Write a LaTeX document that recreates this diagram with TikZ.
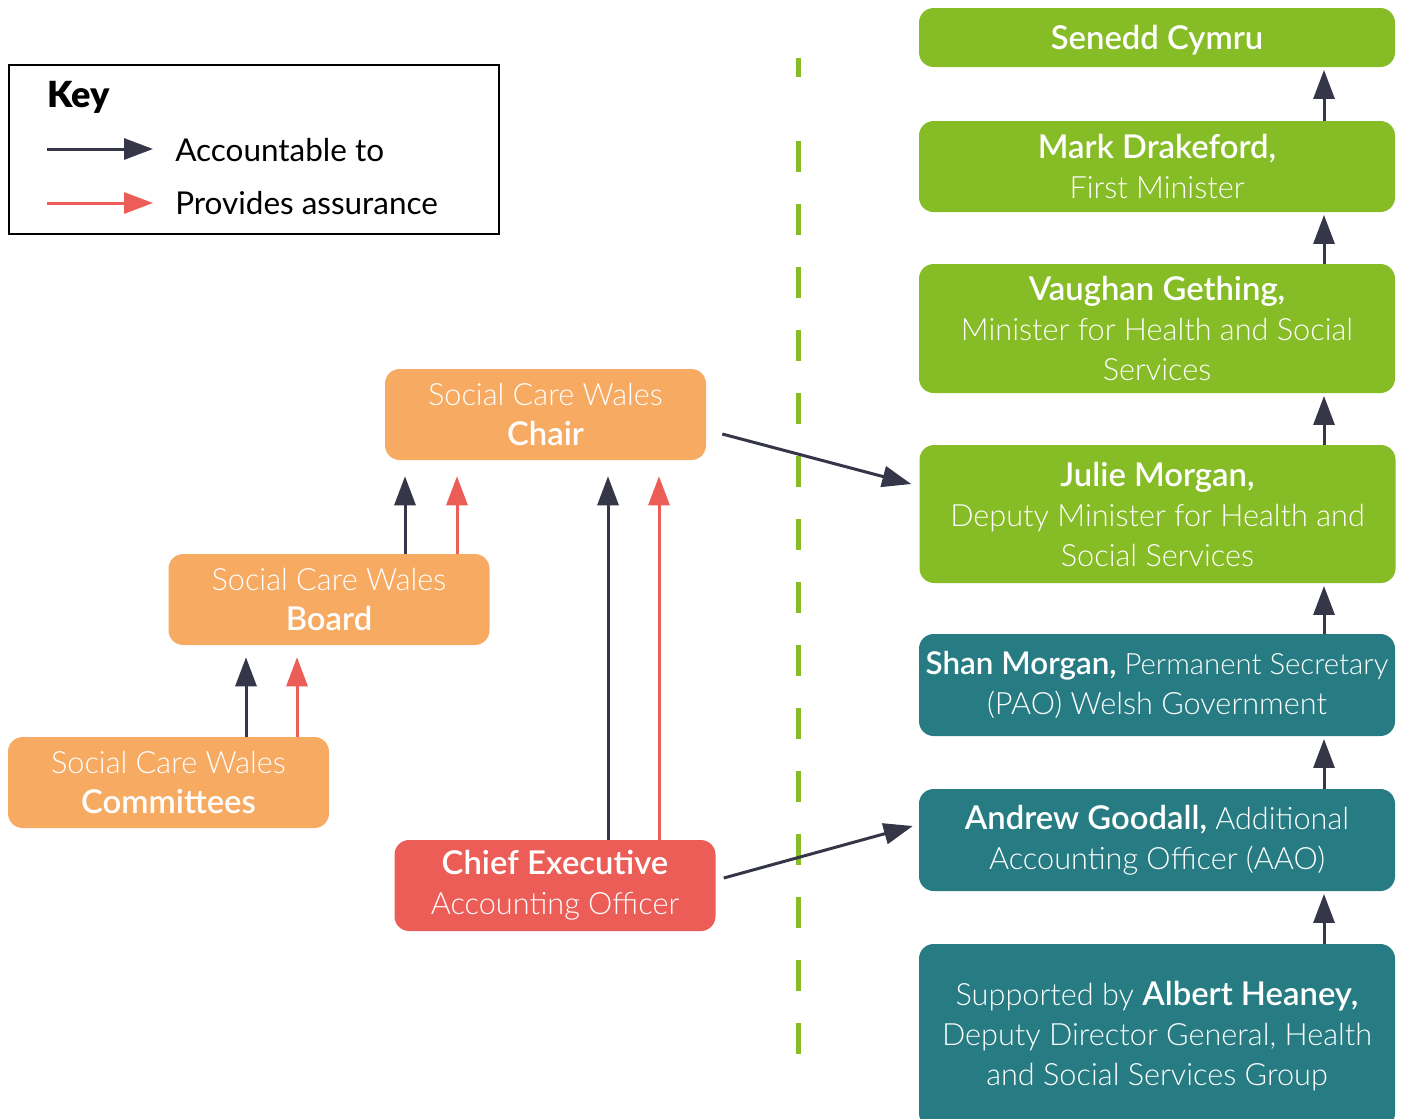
\documentclass[tikz,border=0pt]{standalone}
\usepackage{fontspec}
\setmainfont{Lato}[UprightFont={* Light},BoldFont={* Semibold},BoldFeatures={Scale=1.07}]
\newfontfamily\regfont{Lato}
\newfontfamily\blackfont{Lato Black}
\usetikzlibrary{arrows.meta,calc}
\definecolor{wgreen}{HTML}{86BC25}
\definecolor{wteal}{HTML}{267C82}
\definecolor{worange}{HTML}{F7AA62}
\definecolor{wred}{HTML}{EB5D56}
\definecolor{wnavy}{HTML}{353648}
\tikzset{
  box/.style={rounded corners=11pt, inner sep=0pt, text=white, align=center,
    font=\fontsize{23}{30}\selectfont, execute at begin node={\rule{0pt}{21.5pt}}},
  gbox/.style={box, fill=wgreen, minimum width=357pt},
  tbox/.style={box, fill=wteal, minimum width=357pt},
  obox/.style={box, fill=worange, minimum width=240.75pt, minimum height=68.25pt},
  rbox/.style={box, fill=wred, minimum width=240.75pt, minimum height=68.25pt},
  acc/.style={draw=wnavy, line width=2.25pt, -{Triangle[length=21.75pt,width=15.75pt]}},
  asr/.style={draw=wred, line width=2.25pt, -{Triangle[length=21.75pt,width=15.75pt]}},
  keytext/.style={anchor=west, inner sep=0pt, font=\regfont\fontsize{23.6}{30}\selectfont}
}
\begin{document}
\begin{tikzpicture}[x=0.75pt,y=-0.75pt]
\useasboundingbox (0,0) rectangle (1405,1118);
% key
\node[draw=black, line width=1.9pt, minimum width=367.5pt, minimum height=126.75pt, inner sep=0pt] (key) at (254,149.5) {};
\node[anchor=west, inner sep=0pt, font=\blackfont\fontsize{27}{30}\selectfont] (keyt) at (47,97) {Key};
\coordinate (ka1) at (47,149);
\coordinate (kb1) at (153,149);
\coordinate (ka2) at (47,203);
\coordinate (kb2) at (153,203);
\draw[acc] (ka1) -- (kb1);
\draw[asr] (ka2) -- (kb2);
\node[keytext] (kt1) at (175,150) {Accountable to};
\node[keytext] (kt2) at (175,203) {Provides assurance};
% dashed divider
\coordinate (d0) at (798,58);
\coordinate (d1) at (798,77);
\coordinate (d2) at (798,141);
\coordinate (d3) at (798,1057);
\draw[wgreen, line width=3.75pt] (d0) -- (d1);
\draw[wgreen, line width=3.75pt, dash pattern=on 23.25pt off 24pt] (d2) -- (d3);
% right column
\node[gbox, minimum height=44.25pt] (senedd) at (1157,37.5) {\textbf{Senedd Cymru}};
\node[gbox, minimum height=68.25pt] (mark) at (1157,166.5) {\textbf{Mark Drakeford,}\\First Minister};
\node[gbox, minimum height=96.75pt] (vaughan) at (1157,328.5) {\textbf{Vaughan Gething,}\\Minister for Health and Social\\Services};
\node[gbox, minimum height=103.5pt] (julie) at (1157.5,514) {\textbf{Julie Morgan,}\\Deputy Minister for Health and\\Social Services};
\node[tbox, minimum height=76.5pt] (shan) at (1157,685) {{\fontsize{22}{30}\selectfont\textbf{Shan Morgan,} Permanent Secretary}\\(PAO) Welsh Government};
\node[tbox, minimum height=76.5pt] (andrew) at (1157,840) {\textbf{Andrew Goodall,} Additional\\Accounting Officer (AAO)};
\node[tbox, minimum height=138pt] (albert) at (1157,1036) {Supported by \textbf{Albert Heaney,}\\Deputy Director General, Health\\and Social Services Group};
% left
\node[obox] (chair) at (545.5,414.5) {Social Care Wales\\\textbf{Chair}};
\node[obox] (board) at (329,599.5) {Social Care Wales\\\textbf{Board}};
\node[obox] (comm) at (168.5,782.5) {Social Care Wales\\\textbf{Committees}};
\node[rbox] (ceo) at (555,885.5) {\textbf{Chief Executive}\\Accounting Officer};
% column coordinates
\coordinate (cx) at (1324,0);
\coordinate (x1) at (405,0);
\coordinate (x2) at (457,0);
\coordinate (x3) at (246,0);
\coordinate (x4) at (297,0);
\coordinate (x5) at (608,0);
\coordinate (x6) at (659,0);
% green chain
\draw[acc, shorten >=2pt] (mark.north -| cx) -- (senedd.south -| cx);
\draw[acc, shorten >=2pt] (vaughan.north -| cx) -- (mark.south -| cx);
\draw[acc, shorten >=2pt] (julie.north -| cx) -- (vaughan.south -| cx);
\draw[acc, shorten >=2pt] (shan.north -| cx) -- (julie.south -| cx);
\draw[acc, shorten >=2pt] (andrew.north -| cx) -- (shan.south -| cx);
\draw[acc, shorten >=2pt] (albert.north -| cx) -- (andrew.south -| cx);
% left arrows
\draw[acc, shorten >=12pt] (board.north -| x1) -- (chair.south -| x1);
\draw[asr, shorten >=12pt] (board.north -| x2) -- (chair.south -| x2);
\draw[acc, shorten >=9pt] (comm.north -| x3) -- (board.south -| x3);
\draw[asr, shorten >=9pt] (comm.north -| x4) -- (board.south -| x4);
\draw[acc, shorten >=12pt] (ceo.north -| x5) -- (chair.south -| x5);
\draw[asr, shorten >=12pt] (ceo.north -| x6) -- (chair.south -| x6);
% cross arrows
\draw[acc] ($(chair.east)+(16,19.5)$) -- ($(julie.west)+(-8,-30)$);
\draw[acc] ($(ceo.east)+(8,-7.5)$) -- ($(andrew.west)+(-6,-14)$);
\end{tikzpicture}
\end{document}
